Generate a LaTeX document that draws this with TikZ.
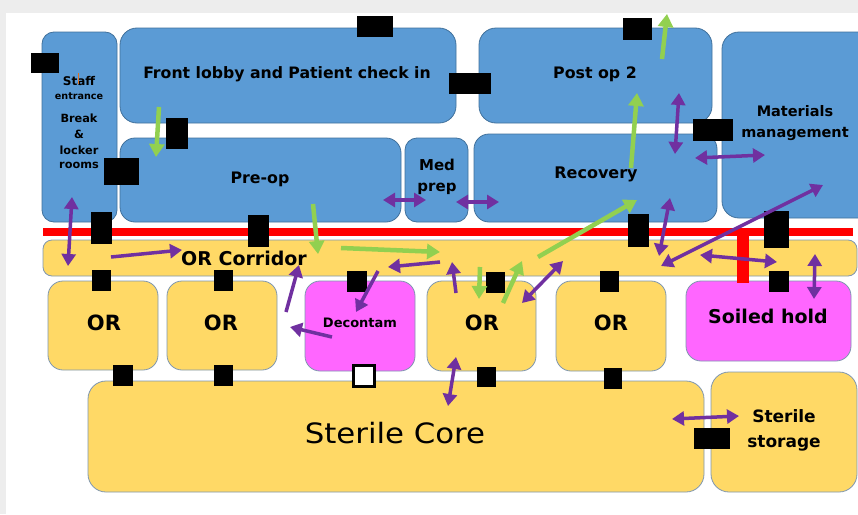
\documentclass[tikz,border=0pt]{standalone}
\usepackage{fontspec}
\setmainfont{DejaVu Sans}
\usepackage{graphicx}
\usetikzlibrary{arrows.meta,fit}
\definecolor{roomblue}{HTML}{5B9BD5}
\definecolor{blueedge}{HTML}{41719C}
\definecolor{yellowedge}{HTML}{7F97B0}
\definecolor{roomyellow}{HTML}{FFD966}
\definecolor{roommag}{HTML}{FF66FF}
\definecolor{arrpurple}{HTML}{7030A0}
\definecolor{arrgreen}{HTML}{92D050}
\definecolor{bggray}{HTML}{EDEDED}
\definecolor{cursororange}{HTML}{E07020}
\tikzset{
  room/.style={rounded corners=15pt, inner sep=0pt, line width=0.8pt},
  bluebox/.style={room, fill=roomblue, draw=blueedge},
  yelbox/.style={room, fill=roomyellow, draw=yellowedge},
  magbox/.style={room, fill=roommag, draw=yellowedge},
  doorbox/.style={fill=black, inner sep=0pt},
  lab/.style={anchor=base, inner sep=0pt, font=\fontsize{#1}{#1}\selectfont\bfseries},
  pline/.style={draw=arrpurple, line width=3.5pt},
  pone/.style={pline, arrows={-Triangle[length=12pt,width=14pt]}},
  ptwo/.style={pline, arrows={Triangle[length=12pt,width=14pt]-Triangle[length=12pt,width=14pt]}},
  gone/.style={draw=arrgreen, line width=4.5pt, arrows={-Triangle[length=13pt,width=15pt]}}
}
\begin{document}
\begin{tikzpicture}[x=1pt,y=-1pt]
\useasboundingbox (0,0) rectangle (858,514);
\clip (0,0) rectangle (858,514);
\fill[bggray] (0,0) rectangle (858,514);
\fill[white] (6,13) rectangle (870,520);

% rooms
\node[bluebox, rounded corners=12pt, fit={(42,32) (117,222)}] (staff) {};
\node[bluebox, rounded corners=17pt, fit={(120,28) (456,123)}] (lobby) {};
\node[bluebox, fit={(120,138) (401,222)}] (preop) {};
\node[bluebox, rounded corners=12pt, fit={(405,138) (468,222)}] (medprep) {};
\node[bluebox, rounded corners=17pt, fit={(479,28) (712,123)}] (postop) {};
\node[bluebox, fit={(474,134) (717,222)}] (recovery) {};
\node[bluebox, rounded corners=17pt, fit={(722,32) (885,218)}] (materials) {};
\node[yelbox, rounded corners=9pt, fit={(43,240) (857,276)}] (corridor) {};
\node[yelbox, fit={(48,281) (158,370)}] (or1) {};
\node[yelbox, fit={(167,281) (277,370)}] (or2) {};
\node[magbox, fit={(305,281) (415,371)}] (decon) {};
\node[yelbox, fit={(427,281) (536,371)}] (or3) {};
\node[yelbox, fit={(556,281) (666,371)}] (or4) {};
\node[magbox, fit={(686,281) (851,361)}] (soiled) {};
\node[yelbox, rounded corners=18pt, fit={(88,381) (704,492)}] (core) {};
\node[yelbox, rounded corners=18pt, fit={(711,372) (857,492)}] (storage) {};

% red barrier
\fill[red] (43,228) rectangle (853,236);
\fill[red] (737,236) rectangle (749,283);

% doors
\node[doorbox, fit={(31,53) (59,73)}] (d1) {};
\node[doorbox, fit={(166,118) (188,149)}] (d2) {};
\node[doorbox, fit={(104,158) (139,185)}] (d3) {};
\node[doorbox, fit={(91,212) (112,244)}] (d4) {};
\node[doorbox, fit={(248,215) (269,247)}] (d5) {};
\node[doorbox, fit={(357,16) (393,37)}] (d6) {};
\node[doorbox, fit={(449,73) (491,94)}] (d7) {};
\node[doorbox, fit={(623,18) (652,40)}] (d8) {};
\node[doorbox, fit={(693,119) (733,141)}] (d9) {};
\node[doorbox, fit={(628,214) (649,247)}] (d10) {};
\node[doorbox, fit={(764,211) (789,248)}] (d11) {};
\node[doorbox, fit={(92,270) (111,291)}] (d12) {};
\node[doorbox, fit={(214,270) (233,291)}] (d13) {};
\node[doorbox, fit={(347,271) (367,292)}] (d14) {};
\node[doorbox, fit={(486,272) (505,293)}] (d15) {};
\node[doorbox, fit={(600,271) (619,292)}] (d16) {};
\node[doorbox, fit={(769,271) (789,292)}] (d17) {};
\node[doorbox, fit={(113,365) (133,386)}] (d18) {};
\node[doorbox, fit={(214,365) (233,386)}] (d19) {};
\node[fill=white, draw=black, line width=3pt, inner sep=0pt, fit={(353.5,365.5) (374.5,386.5)}] (d20) {};
\node[doorbox, fit={(477,367) (496,387)}] (d21) {};
\node[doorbox, fit={(604,368) (622,389)}] (d22) {};
\node[doorbox, fit={(694,428) (730,449)}] (d23) {};

% labels
\node[lab=12] (t1) at (79,85.5) {Staff};
\node[lab=9.6] (t2) at (79,99) {entrance};
\node[lab=11.3] (t3) at (79,122) {Break};
\node[lab=11.3] (t4) at (79,138) {\&};
\node[lab=11.3] (t5) at (79,154) {locker};
\node[lab=11.3] (t6) at (79,168) {rooms};
\draw[cursororange, line width=0.8pt] (78.5,73) -- (78.5,84);
\node[lab=15.7] (t7) at (287,78) {Front lobby and Patient check in};
\node[lab=15.8] (t8) at (595,78) {Post op 2};
\node[lab=15.8] (t9) at (260,183) {Pre-op};
\node[lab=15] (t10) at (437,170) {Med};
\node[lab=15] (t11) at (437,191) {prep};
\node[lab=16] (t12) at (596,178) {Recovery};
\node[lab=14.5] (t13) at (795,116) {Materials};
\node[lab=14.5] (t14) at (795,137) {management};
\node[lab=19] (t15) at (244,265) {OR Corridor};
\node[lab=21] (t16) at (104,330) {OR};
\node[lab=21] (t17) at (221,330) {OR};
\node[lab=21] (t18) at (482,330) {OR};
\node[lab=21] (t19) at (611,330) {OR};
\node[lab=13] (t20) at (360,327) {Decontam};
\node[lab=19] (t21) at (768,323) {Soiled hold};
\node[anchor=base, inner sep=0pt, font=\fontsize{28}{28}\selectfont] (t22) at (395,443) {\scalebox{1.1}[1]{Sterile Core}};
\node[lab=17] (t23) at (784,422) {Sterile};
\node[lab=17] (t24) at (784,447) {storage};

% arrow end points
\coordinate (p1a) at (72,197);  \coordinate (p1b) at (68,266);
\coordinate (p2a) at (111,257); \coordinate (p2b) at (182,250);
\coordinate (p3a) at (383,200); \coordinate (p3b) at (426,200);
\coordinate (p4a) at (456,202); \coordinate (p4b) at (499,202);
\coordinate (p5a) at (286,312); \coordinate (p5b) at (299,265);
\coordinate (p6a) at (332,337); \coordinate (p6b) at (290,327);
\coordinate (p7a) at (378,271); \coordinate (p7b) at (356,312);
\coordinate (p8a) at (440,262); \coordinate (p8b) at (388,267);
\coordinate (p9a) at (456,293); \coordinate (p9b) at (452,262);
\coordinate (p10a) at (522,303); \coordinate (p10b) at (563,261);
\coordinate (p11a) at (448,406); \coordinate (p11b) at (456,357);
\coordinate (p12a) at (670,198); \coordinate (p12b) at (659,256);
\coordinate (p13a) at (661,266); \coordinate (p13b) at (823,185);
\coordinate (p14a) at (700,255); \coordinate (p14b) at (777,262);
\coordinate (p15a) at (815,254); \coordinate (p15b) at (814,299);
\coordinate (p16a) at (679,93);  \coordinate (p16b) at (675,154);
\coordinate (p17a) at (695,158); \coordinate (p17b) at (765,155);
\coordinate (p18a) at (672,419); \coordinate (p18b) at (739,416);
\coordinate (g1a) at (159,107); \coordinate (g1b) at (156,157);
\coordinate (g2a) at (313,204); \coordinate (g2b) at (318,254);
\coordinate (g3a) at (341,248); \coordinate (g3b) at (440,252);
\coordinate (g4a) at (480,267); \coordinate (g4b) at (479,299);
\coordinate (g5a) at (503,303); \coordinate (g5b) at (522,261);
\coordinate (g6a) at (538,257); \coordinate (g6b) at (637,200);
\coordinate (g7a) at (631,168); \coordinate (g7b) at (637,93);
\coordinate (g8a) at (662,59);  \coordinate (g8b) at (667,14);

% green flow
\draw[gone] (g1a) -- (g1b);
\draw[gone] (g2a) -- (g2b);
\draw[gone] (g3a) -- (g3b);
\draw[gone] (g4a) -- (g4b);
\draw[gone] (g5a) -- (g5b);
\draw[gone] (g6a) -- (g6b);
\draw[gone] (g7a) -- (g7b);
\draw[gone] (g8a) -- (g8b);

% purple flow
\draw[ptwo] (p1a) -- (p1b);
\draw[pone] (p2a) -- (p2b);
\draw[ptwo] (p3a) -- (p3b);
\draw[ptwo] (p4a) -- (p4b);
\draw[pone] (p5a) -- (p5b);
\draw[pone] (p6a) -- (p6b);
\draw[pone] (p7a) -- (p7b);
\draw[pone] (p8a) -- (p8b);
\draw[pone] (p9a) -- (p9b);
\draw[ptwo] (p10a) -- (p10b);
\draw[ptwo] (p11a) -- (p11b);
\draw[ptwo] (p12a) -- (p12b);
\draw[ptwo] (p13a) -- (p13b);
\draw[ptwo] (p14a) -- (p14b);
\draw[ptwo] (p15a) -- (p15b);
\draw[ptwo] (p16a) -- (p16b);
\draw[ptwo] (p17a) -- (p17b);
\draw[ptwo] (p18a) -- (p18b);
\end{tikzpicture}
\end{document}
